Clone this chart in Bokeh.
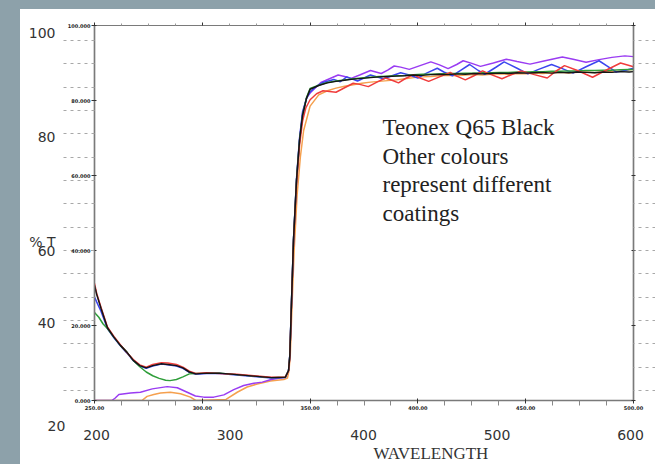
from bokeh.plotting import figure
from bokeh.models import (Range1d, LinearAxis, FixedTicker, NumeralTickFormatter,
                          Label, Div, Title)
from bokeh.layouts import row, column
from bokeh.embed import file_html
from bokeh.resources import INLINE

# ---------------- data (wavelength nm, %T) ----------------
BLACK_X_UV = [250, 251, 253, 256, 259, 262, 265, 268, 271, 274, 277, 281, 284, 288, 291, 294, 297,
              302, 308, 316, 324, 332, 338.5, 340, 340.6, 341.4, 342.3, 343.7, 345.1, 346.5, 348.3]
BLACK_Y_UV = [30.7, 28.3, 24.6, 19.4, 16.9, 14.7, 12.9, 10.7, 9.3, 8.7, 9.3, 9.8, 9.6, 9.3, 8.7, 7.6, 7.1,
              7.3, 7.3, 6.9, 6.5, 6.1, 6.2, 8.0, 12.0, 26.7, 42.7, 58.7, 69.3, 76.0, 80.5]
UPPER_X = [350, 354, 358, 362, 366, 370, 374, 378, 382, 386, 390, 394, 398, 402, 406, 410, 414, 418, 422,
           426, 430, 434, 438, 442, 446, 450, 454, 458, 462, 466, 470, 474, 478, 482, 486, 490, 494, 498, 500]
BLACK_Y_UP = [83.0, 84.0, 84.7, 85.1, 85.4, 85.7, 85.9, 86.1, 86.3, 86.4, 86.5, 86.6, 86.8, 86.7, 86.9,
              87.0, 86.9, 87.1, 87.0, 87.2, 87.1, 87.2, 87.3, 87.2, 87.4, 87.3, 87.4, 87.5, 87.3, 87.5,
              87.4, 87.6, 87.5, 87.4, 87.6, 87.5, 87.7, 87.6, 87.7]

GREEN_X_UV = [250, 252, 254, 256, 259, 262, 265, 268, 271, 274, 277, 280, 283, 285, 288, 291, 294, 297,
              302, 308, 316, 324, 332, 338.5, 340, 340.6, 341.4, 342.3, 343.7, 345.1, 346.5, 348.3]
GREEN_Y_UV = [23.5, 22.2, 20.4, 19.2, 16.9, 14.7, 12.9, 10.7, 9.0, 7.6, 6.6, 5.9, 5.4, 5.3, 5.6, 6.3, 7.1, 7.2,
              7.3, 7.3, 6.9, 6.5, 6.1, 6.2, 8.0, 12.0, 26.7, 42.7, 58.7, 69.3, 76.0, 80.7]
GREEN_Y_UP = [83.2, 84.1, 84.8, 85.2, 85.5, 85.8, 86.0, 86.2, 86.4, 86.5, 86.6, 86.7, 86.9, 87.0, 87.0,
              87.1, 87.2, 87.2, 87.3, 87.3, 87.4, 87.4, 87.5, 87.5, 87.6, 87.6, 87.7, 87.7, 87.8, 87.8,
              87.9, 87.9, 88.0, 88.0, 88.1, 88.1, 88.2, 88.3, 88.3]

RED_X_UV = [250, 251, 253, 256, 259, 262, 265, 268, 271, 274, 277, 281, 284, 288, 291, 294, 297,
            302, 308, 316, 324, 332, 338.5, 340, 340.6, 341.4, 342.3, 343.7, 345.1, 346.5]
RED_Y_UV = [31.2, 28.6, 24.9, 19.6, 17.1, 14.9, 12.8, 10.9, 9.5, 8.9, 9.6, 10.1, 10.0, 9.6, 8.9, 7.8, 7.2,
            7.4, 7.2, 7.0, 6.6, 6.2, 6.3, 7.8, 11.5, 25.9, 41.9, 57.7, 68.0, 74.5]
RED_X_UP = [348, 350, 353, 356, 359, 362, 366, 370, 373, 377, 381, 385, 388, 391, 394, 398, 401, 405, 410,
            415, 418, 422, 426, 430, 434, 439, 443, 448, 454, 460, 464, 468, 474, 481, 487, 494, 500]
RED_Y_UP = [78.0, 80.2, 81.8, 82.6, 82.4, 82.2, 83.4, 84.6, 84.3, 83.7, 84.9, 86.0, 85.4, 84.7, 85.8, 86.9,
            86.0, 85.1, 86.3, 87.5, 86.5, 85.5, 86.6, 87.9, 86.9, 85.8, 86.8, 87.9, 86.9, 86.0, 87.8, 89.3,
            88.0, 86.2, 88.0, 90.0, 89.0]

BLUE_X_UV = [250, 251, 253, 256, 259, 262, 265, 268, 271, 274, 277, 281, 284, 288, 291, 294, 297,
             302, 308, 316, 324, 332, 338.5, 340, 340.6, 341.4, 342.3, 343.7, 345.1, 346.5]
BLUE_Y_UV = [27.6, 26.3, 23.8, 19.2, 16.7, 14.6, 12.7, 10.6, 9.2, 8.6, 9.2, 9.7, 9.5, 9.2, 8.6, 7.5, 7.0,
             7.2, 7.2, 6.8, 6.4, 6.0, 6.1, 8.0, 12.2, 27.0, 43.0, 59.2, 70.0, 77.0]
BLUE_X_UP = [348.5, 350, 353, 356, 361, 364, 367, 372, 378, 384, 388, 392, 396, 400, 404, 409, 412, 416,
             420, 424, 428, 431, 436, 440, 446, 451, 456, 462, 467, 472, 478, 484, 488, 492, 496, 500]
BLUE_Y_UP = [80.8, 82.3, 83.8, 84.8, 85.6, 85.0, 86.3, 85.2, 86.8, 85.8, 86.6, 87.4, 86.8, 86.0, 87.3, 88.6,
             87.6, 86.6, 88.1, 89.6, 88.0, 87.0, 88.8, 90.3, 88.6, 87.1, 88.3, 89.6, 88.5, 87.3, 89.0, 90.6,
             89.1, 87.6, 88.0, 88.6]

PURPLE_X_UV = [250, 258, 259.5, 261.3, 266.7, 271.3, 276.8, 283.7, 288.4, 293, 296.8, 300.7, 305.3, 310,
               314.6, 319.2, 323.9, 327.8, 332, 336, 338.6, 340, 340.6, 341.4, 342.3, 343.7, 345.1, 346.5]
PURPLE_Y_UV = [0.0, 0.0, 0.6, 1.6, 2.0, 2.2, 3.1, 3.7, 3.4, 2.2, 1.2, 0.9, 0.9, 1.5, 2.9, 4.0, 4.6, 4.9,
               5.6, 6.0, 6.2, 8.0, 12.0, 26.5, 42.5, 58.5, 69.5, 76.5]
PURPLE_X_UP = [348.3, 350, 355, 359, 363, 366, 369, 373, 378, 383, 386, 389, 392, 396, 401, 406, 410, 414,
               418, 421, 425, 429, 435, 441, 446, 452, 459, 467, 472, 478, 484, 490, 496, 500]
PURPLE_Y_UP = [80.6, 82.0, 84.8, 85.8, 86.8, 86.4, 85.9, 86.8, 88.0, 87.2, 88.1, 89.2, 88.9, 88.3, 89.3,
               90.3, 89.5, 88.5, 89.6, 90.6, 89.9, 89.1, 90.0, 91.0, 90.4, 89.7, 90.6, 91.6, 91.0, 90.2,
               90.9, 91.5, 91.9, 91.7]

ORANGE_X_UV = [250, 272, 274.4, 277.5, 280.6, 285.2, 289.9, 294.5, 297, 311, 316.2, 320.8, 325.5, 331.6,
               337.8, 339.5, 340.2, 340.8, 341.6, 342.6, 344, 345.5, 347]
ORANGE_Y_UV = [0.0, 0.0, 1.1, 1.6, 2.0, 2.2, 1.8, 0.9, 0.0, 0.3, 2.2, 3.6, 4.4, 5.2, 5.6, 6.0, 8.0, 12.0,
               25.0, 40.0, 55.0, 65.0, 72.0]
ORANGE_Y_UP = [78.5, 81.5, 82.6, 83.3, 83.8, 84.2, 84.6, 84.9, 85.1, 85.3, 85.5, 85.8, 86.1, 86.3, 86.4,
               86.6, 86.7, 86.6, 86.8, 86.9, 86.8, 87.0, 87.1, 87.0, 87.2, 87.1, 87.3, 87.2, 87.4, 87.5,
               87.3, 87.5, 87.6, 87.4, 87.7, 87.8, 87.9, 88.2, 88.3]

X_TICKS = [250, 300, 350, 400, 450, 500]
Y_TICKS = [0, 20, 40, 60, 80, 100]
BIG_X_LABELS = [200, 300, 400, 500, 600]
BIG_Y_LABELS = ["100", "80", "% T", "60", "40"]
BOTTOM_Y_LABEL = "20"
X_TITLE = "WAVELENGTH"
NOTE_LINES = ["Teonex Q65 Black", "Other colours", "represent different", "coatings"]

# ---------------- layout helpers (page pixels -> data) ----------------
FL, FR, FT, FB = 94.0, 633.0, 25.0, 400.0   # frame edges in page px
def dx(px):
    return 250 + (px - FL) * 250.0 / (FR - FL)
def dy(py):
    return round((FB - py) * 100.0 / (FB - FT), 2)

GRID_MINOR = [dy(40 + 23.33 * k) for k in range(16)]
X_MINOR = [250 + 12.5 * i for i in range(21) if i % 4]
YLAB_POS = [dy(p_) for p_ in (32, 136, 241, 250, 322)]

TOP = 9
FIG_W, FIG_H = 635, 464 - TOP
p = figure(width=FIG_W, height=FIG_H, x_range=Range1d(250, 500), y_range=Range1d(0, 100),
           output_backend="svg", toolbar_location=None,
           x_axis_location=None, y_axis_location=None,
           min_border_left=74, min_border_right=22, min_border_top=25 - TOP, min_border_bottom=64,
           background_fill_color="white", border_fill_color="white",
           outline_line_color="#7a7a7a", outline_line_width=1.2, margin=0)
p.xgrid.visible = False
p.ygrid.visible = False
ppu = (630 - 96) / 400.0
p.extra_x_ranges = {"big": Range1d(200 - (96 - FL) / ppu, 600 + (FR - 630) / ppu)}

AXC = "#7a7a7a"

def style_main(ax):
    ax.axis_line_color = AXC
    ax.axis_line_width = 1.5
    ax.major_tick_line_color = "#333333"
    ax.major_tick_out = 3
    ax.major_tick_in = 2
    ax.major_label_text_font = "DejaVu Sans"
    ax.major_label_text_font_style = "bold"
    ax.major_label_text_font_size = "5px"
    ax.major_label_text_color = "#222222"
    ax.major_label_standoff = 1

# bottom main axis
xb = LinearAxis(ticker=FixedTicker(ticks=X_TICKS, minor_ticks=X_MINOR),
                formatter=NumeralTickFormatter(format="0.00"))
style_main(xb)
xb.minor_tick_line_color = "#888888"
xb.minor_tick_out = 5
xb.minor_tick_in = 0
xb.major_label_standoff = 0
p.add_layout(xb, "below")

# "20" label of the slide's own y scale (sits below the frame)
t20 = Title(text=BOTTOM_Y_LABEL, align="left", offset=-47, vertical_align="middle",
            text_font="DejaVu Sans", text_font_size="14px", text_font_style="normal",
            text_color="#333333", standoff=14)
p.add_layout(t20, "below")

# big wavelength labels
xbig = LinearAxis(x_range_name="big", ticker=FixedTicker(ticks=BIG_X_LABELS))
xbig.axis_line_color = None
xbig.major_tick_line_color = None
xbig.minor_tick_line_color = None
xbig.major_label_text_font = "DejaVu Sans"
xbig.major_label_text_font_size = "14px"
xbig.major_label_text_color = "#333333"
xbig.major_label_standoff = -15
p.add_layout(xbig, "below")

twl = Title(text=X_TITLE, align="left", offset=279, vertical_align="middle",
            text_font="Liberation Serif", text_font_size="17px", text_font_style="normal",
            text_color="#333333", standoff=1)
p.add_layout(twl, "below")

# left axis with dashed guide marks (labels pulled back in over the dashes)
yl = LinearAxis(ticker=FixedTicker(ticks=Y_TICKS, minor_ticks=GRID_MINOR),
                formatter=NumeralTickFormatter(format="0.000"))
style_main(yl)
yl.minor_tick_line_color = "#a8a8a8"
yl.minor_tick_line_dash = "3 4"
yl.minor_tick_out = 31
yl.minor_tick_in = 0
yl.major_label_standoff = -27
p.add_layout(yl, "left")

# slide's own big y labels
ybig = LinearAxis(ticker=FixedTicker(ticks=YLAB_POS))
ybig.axis_line_color = None
ybig.major_tick_line_color = None
ybig.minor_tick_line_color = None
ybig.major_label_overrides = {v: t for v, t in zip(YLAB_POS, BIG_Y_LABELS)}
ybig.major_label_text_font = "DejaVu Sans"
ybig.major_label_text_font_size = "14px"
ybig.major_label_text_color = "#333333"
ybig.major_label_standoff = 3
p.add_layout(ybig, "left")

# right axis
yr = LinearAxis(ticker=FixedTicker(ticks=Y_TICKS, minor_ticks=GRID_MINOR))
yr.axis_line_color = AXC
yr.axis_line_width = 1.5
yr.major_tick_line_color = "#333333"
yr.major_tick_out = 2
yr.major_tick_in = 2
yr.major_label_overrides = {t: "" for t in Y_TICKS}
yr.major_label_standoff = 0
yr.minor_tick_line_color = "#a8a8a8"
yr.minor_tick_line_dash = "3 4"
yr.minor_tick_out = 22
yr.minor_tick_in = 0
p.add_layout(yr, "right")

# top axis
xt = LinearAxis(ticker=FixedTicker(ticks=X_TICKS, minor_ticks=X_MINOR))
xt.axis_line_color = AXC
xt.major_tick_line_color = "#333333"
xt.major_tick_out = 3
xt.major_tick_in = 0
xt.minor_tick_line_color = "#999999"
xt.minor_tick_out = 2
xt.minor_tick_in = 0
xt.major_label_overrides = {t: "" for t in X_TICKS}
xt.major_label_standoff = 0
p.add_layout(xt, "above")

# ---------------- curves ----------------
LW = 1.5
p.line(ORANGE_X_UV + UPPER_X, ORANGE_Y_UV + ORANGE_Y_UP, line_color="#f5a04e", line_width=LW)
p.line(PURPLE_X_UV + PURPLE_X_UP, PURPLE_Y_UV + PURPLE_Y_UP, line_color="#9a3cf2", line_width=LW)
p.line(BLUE_X_UV + BLUE_X_UP, BLUE_Y_UV + BLUE_Y_UP, line_color="#3b45ee", line_width=LW)
p.line(GREEN_X_UV + UPPER_X, GREEN_Y_UV + GREEN_Y_UP, line_color="#2f9e3a", line_width=LW)
p.line(RED_X_UV + RED_X_UP, RED_Y_UV + RED_Y_UP, line_color="#f03c3c", line_width=LW)
p.line(BLACK_X_UV + UPPER_X, BLACK_Y_UV + BLACK_Y_UP, line_color="#151515", line_width=LW)

# ---------------- note inside the plot ----------------
for i, line in enumerate(NOTE_LINES):
    p.add_layout(Label(x=dx(382), y=dy(127 + 28.5 * i), text=line, text_align="left",
                       text_baseline="middle", text_font="Liberation Serif",
                       text_font_size="23px", text_color="#222222"))

GREY = "#8da1aa"
side = Div(width=20, height=464, margin=0, styles={"background-color": GREY})
topstrip = Div(width=FIG_W, height=TOP, min_height=TOP, height_policy="fixed", margin=0,
               styles={"background-color": GREY, "min-height": f"{TOP}px", "flex-shrink": "0"})
layout = row(side, column(topstrip, p, margin=0, spacing=0), margin=0, spacing=0)
open("out.html", "w").write(file_html(layout, INLINE))
